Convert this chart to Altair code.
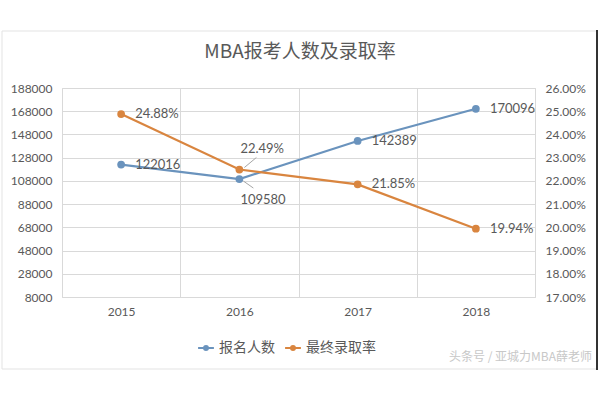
import altair as alt
import pandas as pd

years = ["2015", "2016", "2017", "2018"]
applicants = [122016, 109580, 142389, 170096]
rates = [0.2488, 0.2249, 0.2185, 0.1994]
series_names = ["报名人数", "最终录取率"]
left_ticks = [8000, 28000, 48000, 68000, 88000, 108000, 128000, 148000, 168000, 188000]
right_ticks = [0.17, 0.18, 0.19, 0.20, 0.21, 0.22, 0.23, 0.24, 0.25, 0.26]
title_text = "MBA报考人数及录取率"
watermark = "头条号 / 亚城力MBA薛老师"

BLUE = "#6a93bd"
ORANGE = "#d9853f"
TXT = "#595959"
GRID = "#d9d9d9"
NUMFONT = "Lato"
CJK = "Noto Sans CJK SC"

df_a = pd.DataFrame({"year": years, "value": applicants, "series": series_names[0],
                     "label": [str(v) for v in applicants]})
df_r = pd.DataFrame({"year": years, "value": rates, "series": series_names[1],
                     "label": [f"{v*100:.2f}%" for v in rates]})

x_enc = alt.X("year:N", scale=alt.Scale(type="band", paddingInner=0, paddingOuter=0),
              axis=alt.Axis(title=None, tickBand="extent", grid=True, gridColor=GRID,
                            domain=False, ticks=False, labelAngle=0, labelPadding=9,
                            labelColor=TXT, labelFontSize=12, labelFont=NUMFONT))
color_enc = alt.Color("series:N",
                      scale=alt.Scale(domain=series_names, range=[BLUE, ORANGE]),
                      legend=alt.Legend(title=None, orient="none", direction="horizontal",
                                        legendX=135, legendY=251,
                                        symbolType="M-1,0L1,0M-0.25,0A0.25,0.25,0,1,1,0.25,0A0.25,0.25,0,1,1,-0.25,0Z",
                                        symbolSize=250, symbolStrokeWidth=2,
                                        labelFont=CJK, labelFontSize=14, labelColor=TXT,
                                        columnPadding=6, labelOffset=4))

ya = alt.Y("value:Q", scale=alt.Scale(domain=[8000, 188000], nice=False, zero=False),
           axis=alt.Axis(title=None, values=left_ticks, format="d", orient="left",
                         grid=True, gridColor=GRID, domain=False, ticks=False,
                         labelPadding=10, labelColor=TXT, labelFontSize=12, labelFont=NUMFONT))
yr = alt.Y("value:Q", scale=alt.Scale(domain=[0.17, 0.26], nice=False, zero=False),
           axis=alt.Axis(title=None, values=right_ticks, format=".2%", orient="right",
                         grid=False, domain=False, ticks=False,
                         labelPadding=10, labelColor=TXT, labelFontSize=12, labelFont=NUMFONT))

base_a = alt.Chart(df_a)
base_r = alt.Chart(df_r)

line_a = base_a.mark_line(strokeWidth=2.2).encode(x=x_enc, y=ya, color=color_enc)
pt_a = base_a.mark_point(filled=True, size=60, opacity=1).encode(x="year:N", y=ya, color=color_enc)
lab_a_right = base_a.transform_filter(alt.datum.year != "2016").mark_text(
    align="left", dx=14, fontSize=13, font=NUMFONT, color=TXT).encode(
    x="year:N", y=ya, text="label:N")
lab_a_2016 = base_a.transform_filter(alt.datum.year == "2016").mark_text(
    align="left", dx=1, dy=21, fontSize=13, font=NUMFONT, color=TXT).encode(
    x="year:N", y=ya, text="label:N")
lead_a = base_a.transform_filter(alt.datum.year == "2016").mark_rule(
    color="#a6a6a6", strokeWidth=1, xOffset=4, x2Offset=14, yOffset=2, y2Offset=9).encode(
    x="year:N", x2="year:N", y=ya, y2="value:Q")

layer_a = alt.layer(line_a, pt_a, lab_a_right, lab_a_2016, lead_a)

line_r = base_r.mark_line(strokeWidth=2.2).encode(x="year:N", y=yr, color=color_enc)
pt_r = base_r.mark_point(filled=True, size=60, opacity=1).encode(x="year:N", y=yr, color=color_enc)
lab_r_right = base_r.transform_filter(alt.datum.year != "2016").mark_text(
    align="left", dx=14, fontSize=13, font=NUMFONT, color=TXT).encode(
    x="year:N", y=yr, text="label:N")
lab_r_2016 = base_r.transform_filter(alt.datum.year == "2016").mark_text(
    align="left", dx=1, dy=-21, fontSize=13, font=NUMFONT, color=TXT).encode(
    x="year:N", y=yr, text="label:N")
lead_r = base_r.transform_filter(alt.datum.year == "2016").mark_rule(
    color="#a6a6a6", strokeWidth=1, xOffset=5, x2Offset=17, yOffset=-2, y2Offset=-12).encode(
    x="year:N", x2="year:N", y=yr, y2="value:Q")

layer_r = alt.layer(line_r, pt_r, lab_r_right, lab_r_2016, lead_r)

# title, outer frame and watermark (decorations placed in pixels)
title = alt.Chart(pd.DataFrame({"t": [title_text]})).mark_text(
    align="center", baseline="middle", fontSize=19, font=CJK, color=TXT, clip=False).encode(
    x=alt.value(238), y=alt.value(-36), text="t:N")
frame = alt.Chart(pd.DataFrame({"a": [0]})).mark_rect(
    fill=None, stroke="#e3e3e3", strokeWidth=1, clip=False).encode(
    x=alt.value(-60), x2=alt.value(535), y=alt.value(-57), y2=alt.value(281))
right_edge = alt.Chart(pd.DataFrame({"a": [0]})).mark_rule(
    color="#333333", strokeWidth=2, clip=False).encode(
    x=alt.value(535), y=alt.value(-58), y2=alt.value(282))
wm = alt.Chart(pd.DataFrame({"t": [watermark]})).mark_text(
    align="right", baseline="middle", fontSize=12, font=CJK, color="#c8c8c8", clip=False).encode(
    x=alt.value(530), y=alt.value(269), text="t:N")

chart = alt.layer(layer_a, layer_r, title, frame, right_edge, wm).resolve_scale(
    y="independent"
).properties(
    width=473, height=209,
    autosize=alt.AutoSizeParams(type="none"),
    padding={"left": 62, "top": 88, "right": 65, "bottom": 103},
).configure_view(stroke=GRID, strokeWidth=1).configure(background="white")

chart.save("out.html", embed_options={"renderer": "svg", "actions": False})
